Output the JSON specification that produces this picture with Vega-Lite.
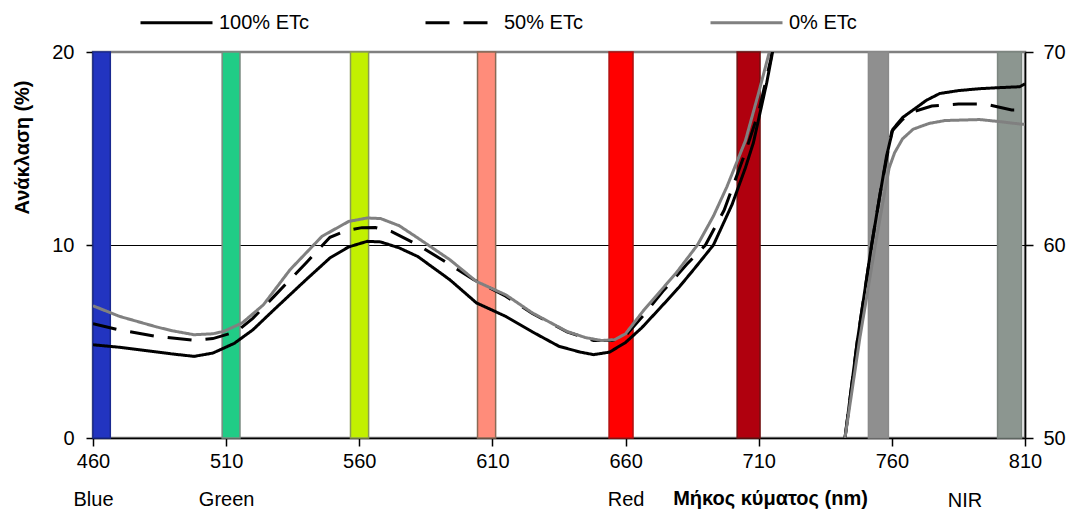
{
  "$schema": "https://vega.github.io/schema/vega-lite/v6.json",
  "width": 932,
  "height": 386,
  "autosize": {"type": "none"},
  "padding": {"left": 93, "top": 52, "right": 48, "bottom": 73},
  "background": "white",
  "config": {
    "font": "Liberation Sans",
    "view": {"stroke": "#808080", "strokeWidth": 2.5},
    "axis": {"labelFont": "Liberation Sans", "titleFont": "Liberation Sans", "labelColor": "black", "titleColor": "black", "domainColor": "black", "tickColor": "black", "domainWidth": 1.5, "tickWidth": 1.5}
  },
  "datasets": {
    "bands": [
      {"band": "Blue", "wl": 460, "wl_end": 466.5},
      {"band": "Green", "wl": 508.5, "wl_end": 515.2},
      {"band": "Yellow", "wl": 556.7, "wl_end": 563.5},
      {"band": "Orange", "wl": 604.4, "wl_end": 611.2},
      {"band": "Red", "wl": 653.8, "wl_end": 662.8},
      {"band": "RedEdge", "wl": 701.9, "wl_end": 710.5},
      {"band": "NIR1", "wl": 751.2, "wl_end": 758.7},
      {"band": "NIR2", "wl": 799.7, "wl_end": 808.7}
    ],
    "visible": [
      {"series": "100% ETc", "wl": 460, "r": 4.83},
      {"series": "100% ETc", "wl": 470, "r": 4.7},
      {"series": "100% ETc", "wl": 477.5, "r": 4.57},
      {"series": "100% ETc", "wl": 490, "r": 4.35},
      {"series": "100% ETc", "wl": 498, "r": 4.23},
      {"series": "100% ETc", "wl": 505, "r": 4.4},
      {"series": "100% ETc", "wl": 513, "r": 4.9},
      {"series": "100% ETc", "wl": 520, "r": 5.6},
      {"series": "100% ETc", "wl": 528, "r": 6.65},
      {"series": "100% ETc", "wl": 540, "r": 8.2},
      {"series": "100% ETc", "wl": 549, "r": 9.33},
      {"series": "100% ETc", "wl": 556, "r": 9.9},
      {"series": "100% ETc", "wl": 563, "r": 10.19},
      {"series": "100% ETc", "wl": 568, "r": 10.16},
      {"series": "100% ETc", "wl": 575, "r": 9.85},
      {"series": "100% ETc", "wl": 582, "r": 9.4},
      {"series": "100% ETc", "wl": 594, "r": 8.2},
      {"series": "100% ETc", "wl": 604, "r": 7.0},
      {"series": "100% ETc", "wl": 615, "r": 6.3},
      {"series": "100% ETc", "wl": 625, "r": 5.5},
      {"series": "100% ETc", "wl": 635, "r": 4.75},
      {"series": "100% ETc", "wl": 643, "r": 4.45},
      {"series": "100% ETc", "wl": 648, "r": 4.32},
      {"series": "100% ETc", "wl": 654, "r": 4.45},
      {"series": "100% ETc", "wl": 660, "r": 4.95},
      {"series": "100% ETc", "wl": 666, "r": 5.7},
      {"series": "100% ETc", "wl": 673, "r": 6.74},
      {"series": "100% ETc", "wl": 680, "r": 7.8},
      {"series": "100% ETc", "wl": 686, "r": 8.8},
      {"series": "100% ETc", "wl": 693, "r": 10.0},
      {"series": "100% ETc", "wl": 700, "r": 12.1},
      {"series": "100% ETc", "wl": 705, "r": 14.0},
      {"series": "100% ETc", "wl": 708, "r": 15.3},
      {"series": "100% ETc", "wl": 713, "r": 18.4},
      {"series": "100% ETc", "wl": 715.2, "r": 20},
      {"series": "100% ETc", "wl": 717, "r": 21.5},
      {"series": "50% ETc", "wl": 460, "r": 5.92},
      {"series": "50% ETc", "wl": 470, "r": 5.6},
      {"series": "50% ETc", "wl": 484, "r": 5.26},
      {"series": "50% ETc", "wl": 498, "r": 5.06},
      {"series": "50% ETc", "wl": 505, "r": 5.15},
      {"series": "50% ETc", "wl": 514, "r": 5.52},
      {"series": "50% ETc", "wl": 520, "r": 6.2},
      {"series": "50% ETc", "wl": 528, "r": 7.34},
      {"series": "50% ETc", "wl": 540, "r": 9.07},
      {"series": "50% ETc", "wl": 549, "r": 10.4},
      {"series": "50% ETc", "wl": 555, "r": 10.75},
      {"series": "50% ETc", "wl": 561, "r": 10.9},
      {"series": "50% ETc", "wl": 566, "r": 10.91},
      {"series": "50% ETc", "wl": 572, "r": 10.7},
      {"series": "50% ETc", "wl": 582, "r": 10.0},
      {"series": "50% ETc", "wl": 590, "r": 9.33},
      {"series": "50% ETc", "wl": 603, "r": 8.2},
      {"series": "50% ETc", "wl": 615, "r": 7.35},
      {"series": "50% ETc", "wl": 625, "r": 6.45},
      {"series": "50% ETc", "wl": 638, "r": 5.5},
      {"series": "50% ETc", "wl": 648, "r": 5.05},
      {"series": "50% ETc", "wl": 655, "r": 5.05},
      {"series": "50% ETc", "wl": 660, "r": 5.3},
      {"series": "50% ETc", "wl": 667, "r": 6.4},
      {"series": "50% ETc", "wl": 674, "r": 7.6},
      {"series": "50% ETc", "wl": 683, "r": 9.0},
      {"series": "50% ETc", "wl": 690, "r": 10.0},
      {"series": "50% ETc", "wl": 697, "r": 11.8},
      {"series": "50% ETc", "wl": 705, "r": 14.8},
      {"series": "50% ETc", "wl": 710, "r": 16.9},
      {"series": "50% ETc", "wl": 714.5, "r": 19.6},
      {"series": "50% ETc", "wl": 716, "r": 21},
      {"series": "0% ETc", "wl": 460, "r": 6.85},
      {"series": "0% ETc", "wl": 470, "r": 6.3},
      {"series": "0% ETc", "wl": 484, "r": 5.75},
      {"series": "0% ETc", "wl": 490, "r": 5.55},
      {"series": "0% ETc", "wl": 498, "r": 5.35},
      {"series": "0% ETc", "wl": 505, "r": 5.4},
      {"series": "0% ETc", "wl": 509, "r": 5.52},
      {"series": "0% ETc", "wl": 516, "r": 5.96},
      {"series": "0% ETc", "wl": 524, "r": 6.9},
      {"series": "0% ETc", "wl": 534, "r": 8.72},
      {"series": "0% ETc", "wl": 546, "r": 10.45},
      {"series": "0% ETc", "wl": 556, "r": 11.22},
      {"series": "0% ETc", "wl": 563, "r": 11.4},
      {"series": "0% ETc", "wl": 568, "r": 11.37},
      {"series": "0% ETc", "wl": 575, "r": 11.0},
      {"series": "0% ETc", "wl": 582, "r": 10.36},
      {"series": "0% ETc", "wl": 594, "r": 9.24},
      {"series": "0% ETc", "wl": 604, "r": 8.11},
      {"series": "0% ETc", "wl": 615, "r": 7.42},
      {"series": "0% ETc", "wl": 625, "r": 6.48},
      {"series": "0% ETc", "wl": 638, "r": 5.52},
      {"series": "0% ETc", "wl": 645, "r": 5.2},
      {"series": "0% ETc", "wl": 651, "r": 5.05},
      {"series": "0% ETc", "wl": 656, "r": 5.1},
      {"series": "0% ETc", "wl": 660, "r": 5.4},
      {"series": "0% ETc", "wl": 667, "r": 6.65},
      {"series": "0% ETc", "wl": 673, "r": 7.6},
      {"series": "0% ETc", "wl": 679, "r": 8.55},
      {"series": "0% ETc", "wl": 687, "r": 10.0},
      {"series": "0% ETc", "wl": 693, "r": 11.5},
      {"series": "0% ETc", "wl": 698, "r": 13.0},
      {"series": "0% ETc", "wl": 705, "r": 15.4},
      {"series": "0% ETc", "wl": 710, "r": 17.9},
      {"series": "0% ETc", "wl": 714, "r": 20},
      {"series": "0% ETc", "wl": 716, "r": 21.5}
    ],
    "nir": [
      {"series": "100% ETc", "wl": 742.4, "r": 50},
      {"series": "100% ETc", "wl": 747, "r": 55},
      {"series": "100% ETc", "wl": 752.4, "r": 60},
      {"series": "100% ETc", "wl": 755.4, "r": 62.5},
      {"series": "100% ETc", "wl": 758, "r": 64.6},
      {"series": "100% ETc", "wl": 760.4, "r": 66.0},
      {"series": "100% ETc", "wl": 764, "r": 66.6},
      {"series": "100% ETc", "wl": 768, "r": 67.0},
      {"series": "100% ETc", "wl": 773, "r": 67.5},
      {"series": "100% ETc", "wl": 778, "r": 67.85},
      {"series": "100% ETc", "wl": 785, "r": 68.0},
      {"series": "100% ETc", "wl": 793, "r": 68.1},
      {"series": "100% ETc", "wl": 800, "r": 68.15},
      {"series": "100% ETc", "wl": 808, "r": 68.2},
      {"series": "100% ETc", "wl": 810, "r": 68.35},
      {"series": "50% ETc", "wl": 742.4, "r": 50},
      {"series": "50% ETc", "wl": 747, "r": 55},
      {"series": "50% ETc", "wl": 752.4, "r": 60},
      {"series": "50% ETc", "wl": 756, "r": 63},
      {"series": "50% ETc", "wl": 760, "r": 65.9},
      {"series": "50% ETc", "wl": 764, "r": 66.5},
      {"series": "50% ETc", "wl": 768, "r": 66.9},
      {"series": "50% ETc", "wl": 775, "r": 67.2},
      {"series": "50% ETc", "wl": 785, "r": 67.3},
      {"series": "50% ETc", "wl": 795, "r": 67.3},
      {"series": "50% ETc", "wl": 800, "r": 67.15},
      {"series": "50% ETc", "wl": 805, "r": 67.0},
      {"series": "50% ETc", "wl": 810, "r": 67.0},
      {"series": "0% ETc", "wl": 742.4, "r": 50},
      {"series": "0% ETc", "wl": 748, "r": 55.2},
      {"series": "0% ETc", "wl": 753.8, "r": 60},
      {"series": "0% ETc", "wl": 757, "r": 62.5},
      {"series": "0% ETc", "wl": 759, "r": 64},
      {"series": "0% ETc", "wl": 761, "r": 64.77},
      {"series": "0% ETc", "wl": 764, "r": 65.5},
      {"series": "0% ETc", "wl": 768, "r": 66.0},
      {"series": "0% ETc", "wl": 774, "r": 66.3},
      {"series": "0% ETc", "wl": 780, "r": 66.45},
      {"series": "0% ETc", "wl": 793, "r": 66.5},
      {"series": "0% ETc", "wl": 800, "r": 66.4},
      {"series": "0% ETc", "wl": 808, "r": 66.27},
      {"series": "0% ETc", "wl": 810, "r": 66.25}
    ],
    "regions": [
      {"wl": 787.5, "label": "NIR"}
    ]
  },
  "encoding": {
    "x": {
      "field": "wl",
      "type": "quantitative",
      "title": "Μήκος κύματος (nm)",
      "scale": {"domain": [460, 810], "nice": false, "zero": false},
      "axis": {
        "values": [460, 510, 560, 610, 660, 710, 760, 810],
        "grid": false,
        "labelFontSize": 20,
        "labelFlush": false,
        "labelOverlap": false,
        "labelPadding": 5,
        "labelLineHeight": 38,
        "labelExpr": "datum.value == 460 ? ['460', 'Blue'] : datum.value == 510 ? ['510', 'Green'] : datum.value == 660 ? ['660', 'Red'] : datum.label",
        "tickSize": 8,
        "titleFontSize": 20,
        "titleFontWeight": "bold",
        "titleX": 677,
        "titleY": 66,
        "titleAlign": "center",
        "titleBaseline": "alphabetic"
      }
    }
  },
  "layer": [
    {
      "data": {"name": "bands"},
      "mark": {"type": "rect", "strokeWidth": 1.5},
      "encoding": {
        "x2": {"field": "wl_end"},
        "fill": {
          "field": "band",
          "type": "nominal",
          "scale": {
            "domain": ["Blue", "Green", "Yellow", "Orange", "Red", "RedEdge", "NIR1", "NIR2"],
            "range": ["#2234c0", "#20cc86", "#c2f000", "#ff8c7a", "#ff0000", "#b0000e", "#8f8f8f", "#8c9690"]
          },
          "legend": null
        },
        "stroke": {
          "field": "band",
          "type": "nominal",
          "scale": {
            "domain": ["Blue", "Green", "Yellow", "Orange", "Red", "RedEdge", "NIR1", "NIR2"],
            "range": ["#1a2a90", "#7a8a80", "#8a9a55", "#8a6a55", "#b01010", "#701010", "#8a8a8a", "#7c8680"]
          },
          "legend": null
        }
      }
    },
    {
      "layer": [
        {
          "data": {"name": "visible"},
          "mark": {"type": "line", "clip": true, "strokeWidth": 3},
          "encoding": {
            "y": {
              "field": "r",
              "type": "quantitative",
              "title": "Ανάκλαση (%)",
              "scale": {"domain": [0, 20], "nice": false, "zero": false},
              "axis": {
                "values": [0, 10, 20],
                "labelFontSize": 20,
                "labelPadding": 12,
                "tickSize": 7,
                "grid": true,
                "gridColor": "black",
                "gridWidth": 1.2,
                "gridOpacity": {"condition": {"test": "datum.value == 10", "value": 1}, "value": 0},
                "titleFontSize": 20,
                "titleFontWeight": "bold",
                "titleX": -71,
                "titleY": 95,
                "titleAlign": "center",
                "titleBaseline": "middle"
              }
            },
            "color": {
              "field": "series",
              "type": "nominal",
              "scale": {"domain": ["100% ETc", "50% ETc", "0% ETc"], "range": ["#000000", "#000000", "#808080"]},
              "legend": {
                "title": null,
                "orient": "none",
                "direction": "horizontal",
                "columns": 3,
                "gridAlign": "all",
                "legendX": 46,
                "legendY": -67,
                "columnPadding": 109,
                "symbolType": "stroke",
                "symbolSize": 5184,
                "symbolStrokeWidth": 3,
                "labelFontSize": 20,
                "labelOffset": 5,
                "labelColor": "black",
                "labelFont": "Liberation Sans"
              }
            },
            "strokeDash": {
              "field": "series",
              "type": "nominal",
              "scale": {"domain": ["100% ETc", "50% ETc", "0% ETc"], "range": [[1, 0], [24, 14], [1, 0]]},
              "legend": {
                "title": null,
                "orient": "none",
                "direction": "horizontal",
                "columns": 3,
                "gridAlign": "all",
                "legendX": 46,
                "legendY": -67,
                "columnPadding": 109,
                "symbolType": "stroke",
                "symbolSize": 5184,
                "symbolStrokeWidth": 3,
                "labelFontSize": 20,
                "labelOffset": 5,
                "labelColor": "black",
                "labelFont": "Liberation Sans"
              }
            }
          }
        },
        {
          "data": {"name": "regions"},
          "mark": {"type": "text", "fontSize": 20, "align": "center", "baseline": "alphabetic", "color": "black", "font": "Liberation Sans"},
          "encoding": {
            "y": {"datum": -3.6, "type": "quantitative"},
            "text": {"field": "label"}
          }
        }
      ]
    },
    {
      "data": {"name": "nir"},
      "mark": {"type": "line", "clip": true, "strokeWidth": 3},
      "encoding": {
        "y": {
          "field": "r",
          "type": "quantitative",
          "scale": {"domain": [50, 70], "nice": false, "zero": false},
          "axis": {
            "orient": "right",
            "title": null,
            "values": [50, 60, 70],
            "labelFontSize": 20,
            "labelPadding": 10,
            "tickSize": 8,
            "grid": false
          }
        },
        "color": {"field": "series", "type": "nominal"},
        "strokeDash": {"field": "series", "type": "nominal"}
      }
    }
  ],
  "resolve": {"scale": {"y": "independent"}}
}
